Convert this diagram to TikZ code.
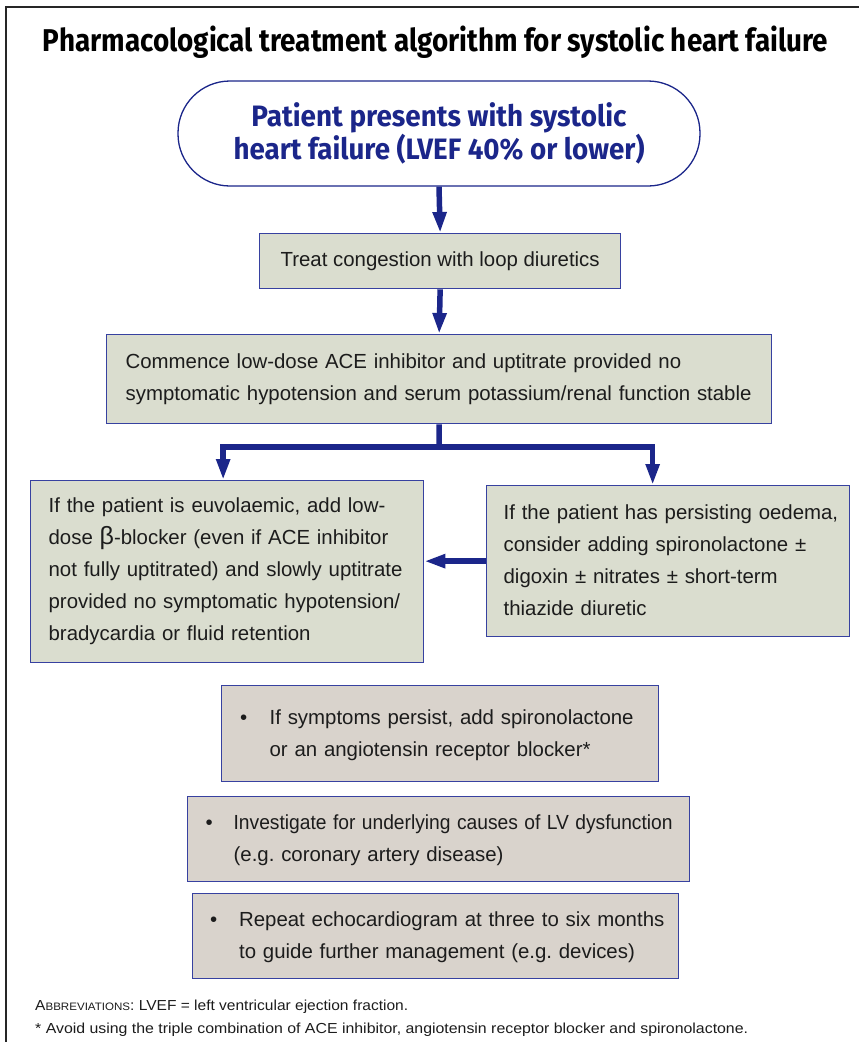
\documentclass[tikz,border=0pt]{standalone}
\usepackage{fontspec}
\setmainfont{Liberation Sans}
\newfontfamily\condfont{Fira Sans}
\usetikzlibrary{arrows.meta}
\definecolor{navy}{RGB}{27,38,138}
\definecolor{boxline}{RGB}{55,65,160}
\definecolor{sage}{RGB}{218,221,207}
\definecolor{sand}{RGB}{217,211,204}
\definecolor{ink}{RGB}{28,28,28}
\frenchspacing
\begin{document}
\begin{tikzpicture}[x=1pt,y=-1pt,
  flowbox/.style={draw=boxline, line width=1.3pt, fill=sage, text=ink, anchor=north west,
    inner ysep=0pt, align=left, font=\fontsize{20.4}{32}\selectfont\frenchspacing},
  bulletbox/.style={flowbox, fill=sand},
  flowarrow/.style={draw=navy, line width=5.5pt, -{Triangle[width=13pt,length=21pt]}},
  flowline/.style={draw=navy, line width=5.5pt},
  footnote/.style={anchor=base west, inner sep=0pt, text=ink, font=\fontsize{14.5}{17}\selectfont}
]
\useasboundingbox (0,0) rectangle (859,1042);
\draw[line width=1.6pt, black!85] (6,1042) -- (6,7) -- (860,7);

\node[anchor=base, inner sep=0pt, font=\condfont\bfseries\fontsize{31.5}{36}\selectfont] (title) at (435.5,51)
  {\resizebox{785pt}{\height}{Pharmacological treatment algorithm for systolic heart failure}};

\node[draw=navy, line width=1.3pt, fill=white, rounded corners=52pt, minimum width=522pt, minimum height=105pt,
  inner sep=0pt, align=center, text=navy, font=\condfont\bfseries\fontsize{29.5}{31}\selectfont] (start) at (439,133.5)
  {\resizebox{375pt}{\height}{Patient presents with systolic}\\\resizebox{411pt}{\height}{heart failure (LVEF 40\% or lower)}};

\node[flowbox, align=center, minimum width=361pt, minimum height=55pt] (congest) at (259,233)
  {Treat congestion with loop diuretics};

\node[flowbox, minimum width=665pt, minimum height=89pt, inner xsep=19pt, text width=627pt] (ace) at (106,334)
  {Commence low-dose ACE inhibitor and uptitrate provided no\\symptomatic hypotension and serum potassium/renal function stable};

\node[flowbox, minimum width=393pt, minimum height=182pt, inner xsep=18pt, text width=357pt] (euvol) at (30,480)
  {If the patient is euvolaemic, add low-\\dose {\fontsize{25}{32}\selectfont β}-blocker (even if ACE inhibitor\\not fully uptitrated) and slowly uptitrate\\provided no symptomatic hypotension/\\bradycardia or fluid retention};

\node[flowbox, minimum width=363pt, minimum height=151pt, inner xsep=17pt, text width=329pt] (oedema) at (486,485)
  {\begin{tabular}{@{}l@{}}If the patient has persisting oedema,\\consider adding spironolactone ±\\digoxin ± nitrates ± short-term\\thiazide diuretic\end{tabular}};

\node[bulletbox, minimum width=437pt, minimum height=96pt, inner xsep=18.5pt, text width=400pt] (persist) at (221,685)
  {\begin{tabular}{@{}l@{}l@{}}\makebox[29.5pt][l]{•} & If symptoms persist, add spironolactone\\ & or an angiotensin receptor blocker*\end{tabular}};

\node[bulletbox, minimum width=502pt, minimum height=85pt, inner xsep=18pt, text width=466pt] (invest) at (187,796)
  {\begin{tabular}{@{}l@{}l@{}}\makebox[28pt][l]{•} & \resizebox{439pt}{\height}{Investigate for underlying causes of LV dysfunction}\\ & (e.g. coronary artery disease)\end{tabular}};

\node[bulletbox, minimum width=486pt, minimum height=85pt, inner xsep=17.5pt, text width=451pt] (echo) at (192,893)
  {\begin{tabular}{@{}l@{}l@{}}\makebox[29pt][l]{•} & Repeat echocardiogram at three to six months\\ & to guide further management (e.g. devices)\end{tabular}};

\draw[flowarrow] (start.south) -- (congest.north);
\draw[flowarrow] (congest.south) -- (ace.north);
\coordinate (split) at (439,447);
\draw[flowline] (ace.south) -- (split);
\draw[flowarrow] (split) -| ([xshift=-4pt]euvol.north);
\draw[flowarrow] (split) -| ([xshift=-15.5pt]oedema.north);
\draw[flowarrow] (oedema.west) -- (oedema.west -| euvol.east);

\node[footnote] (abbr) at (35,1010)
  {\resizebox{373pt}{\height}{A{\fontsize{10.8}{12}\selectfont BBREVIATIONS}: LVEF = left ventricular ejection fraction.}};
\node[footnote] (avoid) at (35,1033)
  {\resizebox{713pt}{\height}{* Avoid using the triple combination of ACE inhibitor, angiotensin receptor blocker and spironolactone.}};
\end{tikzpicture}
\end{document}
